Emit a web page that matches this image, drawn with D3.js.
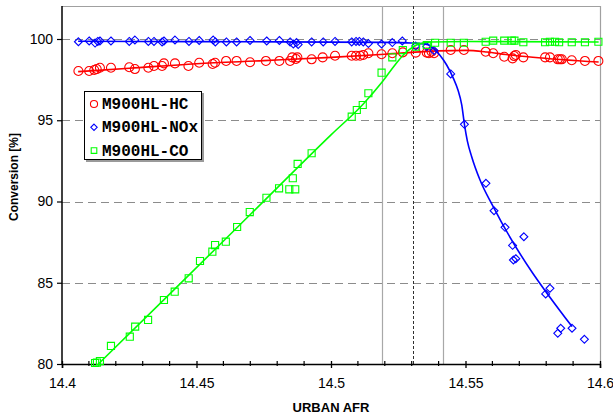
<!DOCTYPE html>
<html>
<head>
<meta charset="utf-8">
<script src="https://cdn.jsdelivr.net/npm/d3@7/dist/d3.min.js"></script>
<style>
  html, body { margin: 0; padding: 0; background: #fff; }
  svg { display: block; }
</style>
</head>
<body>
<svg id="chart" width="613" height="418"></svg>
<script>
// ---- measured data: M900HL catalyst conversion vs urban AFR ----
const seriesNames = ["M900HL-HC", "M900HL-NOx", "M900HL-CO"];

const hcX = [14.4061,14.4101,14.4120,14.4129,14.4141,14.4182,14.4250,14.4271,14.4321,14.4342,14.4372,14.4379,14.4420,14.4470,14.4510,14.4560,14.4569,14.4610,14.4649,14.4699,14.4758,14.4808,14.4848,14.4856,14.4870,14.4875,14.4928,14.4969,14.5015,14.5077,14.5093,14.5108,14.5120,14.5139,14.5188,14.5228,14.5267,14.5315,14.5356,14.5364,14.5374,14.5383,14.5445,14.5494,14.5575,14.5603,14.5644,14.5675,14.5681,14.5687,14.5715,14.5796,14.5814,14.5843,14.5851,14.5858,14.5895,14.5944,14.5994];
const hcY = [98.03,98.03,98.09,98.15,98.23,98.23,98.26,98.15,98.23,98.34,98.34,98.50,98.50,98.34,98.54,98.46,98.54,98.65,98.65,98.57,98.65,98.65,98.65,98.87,98.77,98.87,98.75,98.87,98.97,98.97,98.97,98.97,99.02,99.12,99.06,99.12,99.18,99.16,99.16,99.12,99.22,99.12,99.32,99.32,99.22,99.12,98.91,98.81,98.95,99.02,98.87,98.87,98.87,98.75,98.75,98.75,98.69,98.65,98.65];

const noxX = [14.4061,14.4101,14.4123,14.4133,14.4141,14.4182,14.4250,14.4271,14.4321,14.4342,14.4372,14.4379,14.4420,14.4472,14.4510,14.4562,14.4570,14.4611,14.4649,14.4699,14.4761,14.4808,14.4848,14.4860,14.4872,14.4878,14.4928,14.4971,14.5015,14.5077,14.5093,14.5105,14.5120,14.5139,14.5188,14.5228,14.5265,14.5315,14.5356,14.5383,14.5445,14.5496,14.5576,14.5606,14.5647,14.5717,14.5675,14.5678,14.5687,14.5798,14.5814,14.5843,14.5854,14.5896,14.5942];
const noxY = [99.83,99.88,99.75,99.85,99.88,99.88,99.85,99.94,99.85,99.85,99.82,99.88,99.94,99.85,99.91,99.94,99.82,99.82,99.82,99.91,99.88,99.91,99.82,99.69,99.78,99.66,99.82,99.82,99.85,99.82,99.85,99.85,99.82,99.72,99.69,99.78,99.88,99.57,99.54,99.29,97.85,94.75,91.12,89.43,88.41,87.83,87.30,86.40,86.48,84.31,84.66,81.89,82.20,82.20,81.52];

const coX = [14.4123,14.4130,14.4141,14.4182,14.4252,14.4272,14.4320,14.4379,14.4419,14.4471,14.4513,14.4559,14.4569,14.4609,14.4651,14.4698,14.4760,14.4807,14.4845,14.4867,14.4858,14.4876,14.4928,14.5077,14.5096,14.5118,14.5139,14.5188,14.5228,14.5267,14.5316,14.5356,14.5387,14.5445,14.5494,14.5575,14.5603,14.5644,14.5672,14.5682,14.5715,14.5796,14.5814,14.5833,14.5848,14.5895,14.5944,14.5994];
const coY = [80.06,80.09,80.18,81.11,81.68,82.30,82.71,83.94,84.45,85.27,86.34,86.91,87.32,87.53,88.43,89.35,90.23,90.81,90.75,90.75,91.43,92.31,92.97,95.22,95.63,95.94,96.66,97.93,98.87,99.32,99.53,99.63,99.77,99.77,99.77,99.83,99.90,99.90,99.90,99.90,99.80,99.80,99.83,99.83,99.80,99.80,99.80,99.83];

// smoothed trend lines (knots of the fitted curves)
const hcFitX = [14.406,14.425,14.45,14.475,14.50,14.52,14.54,14.55,14.558,14.565,14.575,14.5995];
const hcFitY = [97.99,98.20,98.48,98.67,98.87,99.06,99.27,99.30,99.20,99.05,98.88,98.58];

const noxFitX = [14.406,14.45,14.50,14.52,14.53,14.5356,14.538,14.5405,14.543,14.5455,14.5472,14.5486,14.5496,14.5507,14.5523,14.5554,14.5603,14.5896];
const noxFitY = [99.86,99.84,99.81,99.79,99.75,99.67,99.43,99.00,98.40,97.58,96.86,95.94,94.75,93.72,92.76,91.32,89.68,82.30];

const coFitX = [14.4135,14.44,14.47,14.50,14.512,14.519,14.524,14.528,14.532,14.537,14.55,14.5995];
const coFitY = [80.00,84.30,89.20,94.10,96.00,97.35,98.45,99.20,99.65,99.82,99.85,99.82];

// axis ticks and reference AFR markers
const xMajorTicks = [14.4, 14.45, 14.5, 14.55, 14.6];
const xMinorTicks = [14.41,14.42,14.43,14.44,14.46,14.47,14.48,14.49,14.51,14.52,14.53,14.54,14.56,14.57,14.58,14.59];
const yTicks = [80, 85, 90, 95, 100];
const afrWindow = [14.519, 14.5415];
const afrCenter = [14.5305];

// ---- layout ----
const svg = d3.select("#chart");
const mLeft = 62, mRight = 600, mTop = 6, mBottom = 364;

const x = d3.scaleLinear().domain([14.4, 14.6]).range([mLeft, mRight]);
const y = d3.scaleLinear().domain([80, 100]).range([mBottom, 39]);

const colors = ["#ff0000", "#0000ff", "#00ff00"];

// frame (top/right)
svg.append("path")
  .attr("d", `M${mLeft},${mTop + 0.5}H${mRight + 0.5}V${mBottom}`)
  .attr("fill", "none").attr("stroke", "#a0a0a0").attr("stroke-width", 1.2);

// dashed horizontal grid
svg.append("g").selectAll("line").data(yTicks.filter(d => d > 80)).join("line")
  .attr("x1", mLeft).attr("x2", mRight)
  .attr("y1", d => Math.round(y(d)) + 0.5).attr("y2", d => Math.round(y(d)) + 0.5)
  .attr("stroke", "#8c8c8c").attr("stroke-width", 1).attr("stroke-dasharray", "8,5");

// AFR window (solid grey) and centre (dashed)
svg.append("g").selectAll("line").data(afrWindow).join("line")
  .attr("x1", d => Math.round(x(d)) + 0.5).attr("x2", d => Math.round(x(d)) + 0.5)
  .attr("y1", mTop).attr("y2", mBottom)
  .attr("stroke", "#a8a8a8").attr("stroke-width", 1.2);
svg.append("g").selectAll("line").data(afrCenter).join("line")
  .attr("x1", d => Math.round(x(d)) + 0.5).attr("x2", d => Math.round(x(d)) + 0.5)
  .attr("y1", mTop).attr("y2", mBottom)
  .attr("stroke", "#303030").attr("stroke-width", 1).attr("stroke-dasharray", "3,2");

// axes
const xAxis = d3.axisBottom(x).tickValues(xMajorTicks).tickSize(4).tickFormat(d3.format("~g"));
const gx = svg.append("g").attr("transform", `translate(0,${mBottom})`).call(xAxis);
gx.select(".domain").attr("stroke", "#000").attr("stroke-width", 1.5);
gx.selectAll(".tick line").attr("stroke", "#000").attr("stroke-width", 1.3).attr("y1", -3);
gx.selectAll(".tick text").attr("dy", "1.15em").attr("y", 8)
  .style("font-family", "Arial, 'Liberation Sans', sans-serif").style("font-size", "14px").attr("fill", "#000");
gx.append("g").selectAll("line").data(xMinorTicks).join("line")
  .attr("x1", d => x(d)).attr("x2", d => x(d)).attr("y1", -3).attr("y2", 2)
  .attr("stroke", "#000").attr("stroke-width", 1.2);

const yAxis = d3.axisLeft(y).tickValues(yTicks).tickSize(5).tickFormat(d3.format("d"));
const gy = svg.append("g").attr("transform", `translate(${mLeft},0)`).call(yAxis);
gy.select(".domain").attr("stroke", "#000").attr("stroke-width", 1.5).attr("d", `M0,${mBottom}V${mTop}`);
gy.selectAll(".tick line").attr("stroke", "#000").attr("stroke-width", 1.2);
gy.selectAll(".tick text").attr("x", -9)
  .style("font-family", "Arial, 'Liberation Sans', sans-serif").style("font-size", "14px").attr("fill", "#000");

// axis titles
svg.append("text").attr("x", 331).attr("y", 412).attr("text-anchor", "middle")
  .style("font-family", "Arial, 'Liberation Sans', sans-serif").style("font-size", "13px").style("font-weight", "bold")
  .text("URBAN AFR");
svg.append("text").attr("transform", "translate(18,177) rotate(-90)").attr("text-anchor", "middle")
  .style("font-family", "Arial, 'Liberation Sans', sans-serif").style("font-size", "12px").style("font-weight", "bold")
  .text("Conversion [%]");

// ---- series ----
const zip = (xs, ys) => xs.map((v, i) => [v, ys[i]]);
const line = d3.line().x(d => x(d[0])).y(d => y(d[1])).curve(d3.curveMonotoneX);

const fits = [zip(hcFitX, hcFitY), zip(noxFitX, noxFitY), zip(coFitX, coFitY)];
const pts = [zip(hcX, hcY), zip(noxX, noxY), zip(coX, coY)];

const symbols = [d3.symbolCircle, d3.symbolDiamond2, d3.symbolSquare2];
const symSize = [Math.PI * 4.5 * 4.5, 40, 64];

pts.forEach((p, i) => {
  const g = svg.append("g");
  g.append("path").datum(fits[i]).attr("d", line)
    .attr("fill", "none").attr("stroke", colors[i]).attr("stroke-width", 1.6);
  g.selectAll("path.pt").data(p).join("path").attr("class", "pt")
    .attr("transform", d => `translate(${x(d[0])},${y(d[1])})`)
    .attr("d", d3.symbol().type(symbols[i]).size(symSize[i]))
    .attr("fill", "none").attr("stroke", colors[i]).attr("stroke-width", 1.1);
});

// ---- legend ----
const lg = svg.append("g").attr("transform", "translate(84,91)");
lg.append("rect").attr("x", 2).attr("y", 2).attr("width", 118).attr("height", 69).attr("fill", "#9a9a9a");
lg.append("rect").attr("x", 0.5).attr("y", 0.5).attr("width", 117).attr("height", 68)
  .attr("fill", "#fff").attr("stroke", "#000").attr("stroke-width", 1);
seriesNames.forEach((name, i) => {
  const yy = 13 + i * 23.3;
  lg.append("path").attr("transform", `translate(10,${yy})`)
    .attr("d", d3.symbol().type(symbols[i]).size(i === 1 ? 26 : 40))
    .attr("fill", "none").attr("stroke", colors[i]).attr("stroke-width", 1.1);
  lg.append("text").attr("x", 18).attr("y", yy + 5)
    .style("font-family", "'Liberation Mono', 'Courier New', monospace").style("font-size", "16px").style("font-weight", "bold")
    .text(name);
});
</script>
</body>
</html>
